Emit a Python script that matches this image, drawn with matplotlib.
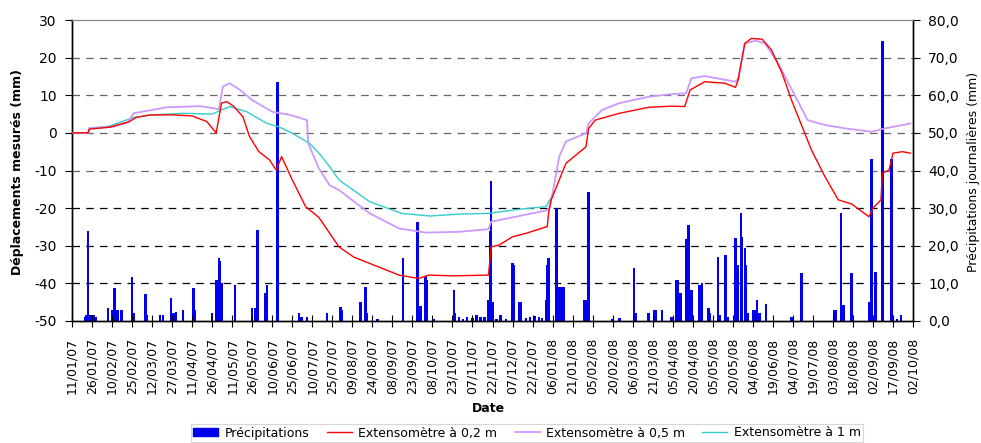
import datetime

import matplotlib
matplotlib.use("Agg")
import matplotlib.pyplot as plt
import matplotlib.dates as mdates
from matplotlib.patches import Patch
from matplotlib.lines import Line2D

plt.rcParams['font.family'] = ['DejaVu Sans']
plt.rcParams['axes.unicode_minus'] = False

START = datetime.date(2007, 1, 11)

# daily rainfall (days after 11/01/07, mm)
rain_days = [10, 11, 12, 14, 15, 16, 18, 27, 30, 32, 34, 37, 45, 46, 55, 56, 66, 68,
             74, 76, 78, 83, 91, 92, 105, 108, 109, 110, 111, 112, 122, 135, 137, 139,
             145, 146, 154, 170, 172, 176, 191, 201, 202, 216, 220, 221, 229, 248, 259,
             261, 265, 266, 271, 286, 287, 290, 293, 296, 300, 303, 306, 309, 312, 313,
             314, 315, 318, 321, 325, 330, 331, 335, 336, 340, 343, 347, 350, 352, 355,
             356, 357, 363, 365, 366, 367, 368, 384, 385, 387, 405, 410, 421, 422, 432,
             436, 437, 442, 449, 453, 454, 456, 460, 461, 462, 463, 464, 470, 471, 472,
             477, 478, 484, 485, 489, 490, 491, 497, 499, 501, 502, 504, 505, 506, 510,
             512, 513, 515, 520, 539, 546, 547, 571, 572, 576, 578, 584, 585, 597, 599,
             602, 607, 614, 618, 621]
rain_mm = [1.0, 1.5, 24.0, 1.5, 1.5, 1.5, 1.0, 3.4, 3.0, 8.8, 3.0, 3.0, 11.8, 2.0, 7.2, 1.5, 1.5, 1.5,
           6.2, 2.0, 2.5, 3.0, 8.9, 3.0, 2.0, 10.9, 11.0, 16.7, 16.0, 10.0, 9.6, 3.5, 3.5, 24.2,
           7.4, 9.6, 63.6, 2.0, 1.0, 1.0, 2.0, 3.6, 3.0, 5.0, 9.0, 2.0, 0.5, 16.8, 26.4,
           4.0, 12.0, 11.0, 0.5, 8.2, 2.0, 1.0, 0.5, 1.0, 0.8, 1.5, 1.0, 1.0, 5.6, 24.0,
           37.2, 5.0, 0.5, 1.5, 0.5, 15.3, 15.0, 5.1, 5.0, 0.8, 1.0, 1.2, 1.0, 0.8, 5.6,
           15.0, 16.7, 30.0, 9.0, 9.0, 9.0, 9.0, 5.6, 5.6, 34.2, 0.5, 0.8, 14.0, 2.0, 2.0,
           3.0, 3.0, 3.0, 1.0, 10.9, 10.9, 7.4, 21.7, 21.7, 25.5, 8.2, 8.2, 9.6, 9.6, 10.2,
           3.5, 2.0, 16.9, 1.5, 17.5, 17.5, 1.0, 22.1, 14.9, 28.6, 22.4, 19.3, 14.9, 2.0, 3.0,
           3.0, 5.6, 2.0, 4.5, 1.0, 12.7, 12.7, 3.0, 3.0, 28.6, 4.2, 12.7, 1.0, 5.1, 43.0,
           13.1, 74.4, 43.0, 0.5, 1.5]

# extensometer at 0.2 m
ext02_days = [0, 12, 13, 28, 43, 48, 58, 75, 90, 101, 108, 112, 116, 121, 128, 133, 140,
              148, 153, 157, 165, 175, 185, 200, 211, 223, 245, 260, 267, 285, 312, 314,
              320, 330, 340, 356, 357, 359, 365, 370, 385, 387, 392, 410, 432, 449, 459,
              463, 474, 489, 497, 499, 504, 509, 517, 524, 532, 539, 547, 554, 564, 574,
              584, 597, 600, 606, 607, 612, 615, 622, 628]
ext02_mm = [0, 0, 1.0, 1.5, 3.0, 4.1, 4.75, 4.8, 4.5, 3.0, 0.0, 7.9, 8.3, 7.1, 4.3, -1.0, -5.0,
            -7.2, -9.9, -6.3, -12.5, -19.6, -22.5, -30.3, -33.0, -34.7, -37.8, -38.7, -37.8, -38.0, -37.8, -30.3,
            -29.8, -27.6, -26.7, -24.9, -21.4, -17.8, -12.5, -8.1, -3.7, 1.2, 3.4, 5.2, 6.8, 7.1, 7.0,
            11.4, 13.6, 13.2, 12.1, 14.0, 23.8, 25.1, 24.9, 22.0, 15.8, 8.7, 1.6, -4.6, -11.6, -17.8,
            -18.9, -22.3, -20.0, -17.8, -10.7, -9.9, -5.4, -5.0, -5.4]

# extensometer at 0.5 m
ext05_days = [0, 12, 13, 31, 42, 46, 71, 96, 110, 113, 118, 126, 135, 150, 163, 176, 177,
              185, 193, 200, 223, 245, 265, 290, 312, 314, 335, 357, 360, 365, 370, 385,
              387, 397, 410, 432, 449, 460, 464, 474, 497, 499, 504, 512, 519, 529, 542,
              551, 564, 579, 599, 609, 628]
ext05_mm = [0, 0, 1.3, 1.6, 2.8, 5.2, 6.8, 7.1, 6.3, 12.3, 13.2, 11.4, 8.7, 5.6, 4.8, 3.4, -2.8,
            -9.5, -13.9, -15.2, -21.4, -25.4, -26.5, -26.3, -25.6, -23.6, -22.1, -20.5, -16.1, -6.3, -2.3, -0.1,
            2.5, 6.1, 7.9, 9.6, 10.3, 10.5, 14.5, 15.1, 13.6, 14.4, 23.8, 24.5, 23.8, 18.5, 9.6,
            3.4, 2.1, 1.2, 0.3, 1.2, 2.5]

# extensometer at 1 m
ext1_days = [0, 12, 13, 28, 46, 61, 83, 105, 112, 118, 131, 146, 155, 165, 178, 185, 193,
             200, 223, 247, 268, 290, 312, 335, 355, 360]
ext1_mm = [0, 0, 1.2, 1.8, 4.1, 4.8, 5.2, 5.0, 6.1, 7.0, 5.6, 2.5, 1.6, -0.1, -2.8, -5.4, -9.0,
           -12.5, -18.3, -21.4, -22.1, -21.6, -21.4, -20.3, -19.6, -16.5]


def to_dates(days):
    return [START + datetime.timedelta(days=d) for d in days]


fig = plt.figure(figsize=(9.81, 4.43), dpi=100)
ax = fig.add_axes([72 / 981, 1 - 321 / 443, (913 - 72) / 981, 301 / 443])
ax2 = ax.twinx()

# rainfall on right axis, behind the lines
for v in range(10, 80, 10):
    col = '#000000' if v <= 30 else '#666666'
    ax2.axhline(v, color=col, lw=0.9, ls=(0, (6, 5)), zorder=0)
ax2.bar(mdates.date2num(to_dates(rain_days)), rain_mm, width=1.9,
        color='#0000ee', edgecolor='none', zorder=2)
ax2.set_ylim(0, 80)
ax2.set_yticks(range(0, 81, 10))
ax2.set_yticklabels([f'{v:.1f}'.replace('.', ',') for v in range(0, 81, 10)], fontsize=10)

ax.set_zorder(ax2.get_zorder() + 1)
ax.patch.set_visible(False)
ax.plot(to_dates(ext1_days), ext1_mm, color='#33cccc', lw=1.0, zorder=3)
ax.plot(to_dates(ext05_days), ext05_mm, color='#cc99ff', lw=1.3, zorder=4)
ax.plot(to_dates(ext02_days), ext02_mm, color='#ff0000', lw=1.0, zorder=5)
ax.set_ylim(-50, 30)
ax.set_yticks(range(-50, 31, 10))
ax.tick_params(axis='y', labelsize=10, direction='out', length=5, pad=6)
ax2.tick_params(axis='y', direction='out', length=5, pad=6)

end = START + datetime.timedelta(days=630)
ax.set_xlim(START, end)
ticks = [START + datetime.timedelta(days=15 * i) for i in range(43)]
ax.set_xticks(ticks)
ax.xaxis.set_major_formatter(mdates.DateFormatter('%d/%m/%y'))
ax.tick_params(axis='x', labelsize=9, rotation=90, direction='inout', length=8, pad=8)

for a in (ax, ax2):
    a.spines['top'].set_color('#888888')
    a.spines['left'].set_linewidth(1.0)
    a.spines['right'].set_linewidth(1.0)
    a.spines['bottom'].set_linewidth(1.0)

fig.text(18 / 981, 1 - 172 / 443, 'Déplacements mesurés (mm)', rotation=90,
         ha='center', va='center', fontsize=9, fontweight='bold')
fig.text(974 / 981, 1 - 172 / 443, 'Précipitations journalières (mm)', rotation=90,
         ha='center', va='center', fontsize=9)
fig.text(488 / 981, 1 - 409 / 443, 'Date', ha='center', va='center',
         fontsize=9, fontweight='bold')

handles = [Patch(color='#0000ee'),
           Line2D([], [], color='#ff0000', lw=1.0),
           Line2D([], [], color='#cc99ff', lw=1.3),
           Line2D([], [], color='#33cccc', lw=1.0)]
labels = ['Précipitations', 'Extensomètre à 0,2 m', 'Extensomètre à 0,5 m',
          'Extensomètre à 1 m']
leg = fig.legend(handles, labels, loc='upper center', bbox_to_anchor=(527 / 981, 1 - 424 / 443),
                 ncol=4, fontsize=9, frameon=True, fancybox=False, handlelength=2.0,
                 handleheight=0.6, columnspacing=1.4, handletextpad=0.5, borderpad=0.2,
                 borderaxespad=0)
leg.get_frame().set_edgecolor('#cccccc')
leg.get_frame().set_linewidth(0.8)

fig.savefig('out.png', dpi=100)
